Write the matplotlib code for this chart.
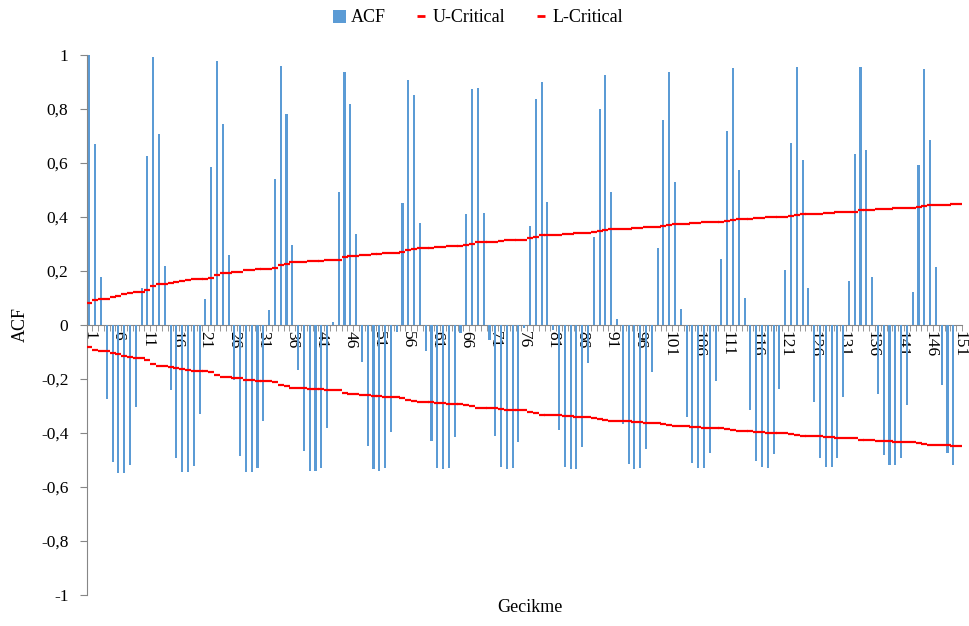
import matplotlib
matplotlib.use("Agg")
import matplotlib.pyplot as plt
from matplotlib.patches import Patch
from matplotlib.lines import Line2D
from matplotlib.ticker import FixedLocator, FuncFormatter

lags = list(range(1, 152))

acf = [
    1.000, 0.669, 0.178, -0.273, -0.506, -0.547, -0.547, -0.519, -0.304, 0.136,
    0.626, 0.993, 0.706, 0.219, -0.241, -0.494, -0.543, -0.543, -0.522, -0.331,
    0.095, 0.585, 0.978, 0.746, 0.259, -0.205, -0.485, -0.543, -0.543, -0.528,
    -0.356, 0.054, 0.540, 0.959, 0.783, 0.296, -0.168, -0.467, -0.541, -0.541,
    -0.528, -0.380, 0.012, 0.494, 0.937, 0.817, 0.338, -0.136, -0.448, -0.535,
    -0.541, -0.531, -0.396, -0.025, 0.453, 0.906, 0.851, 0.379, -0.096, -0.430,
    -0.531, -0.535, -0.531, -0.415, -0.030, 0.412, 0.873, 0.879, 0.416, -0.057,
    -0.411, -0.526, -0.535, -0.531, -0.432, -0.010, 0.367, 0.838, 0.901, 0.457,
    -0.020, -0.390, -0.526, -0.532, -0.532, -0.451, -0.140, 0.326, 0.801, 0.925,
    0.494, 0.021, -0.368, -0.516, -0.532, -0.528, -0.460, -0.173, 0.286, 0.759,
    0.938, 0.531, 0.058, -0.341, -0.510, -0.528, -0.528, -0.473, -0.207, 0.243,
    0.719, 0.951, 0.573, 0.099, -0.316, -0.504, -0.525, -0.528, -0.479, -0.236,
    0.202, 0.673, 0.956, 0.610, 0.136, -0.285, -0.494, -0.525, -0.525, -0.491,
    -0.267, 0.163, 0.632, 0.956, 0.648, 0.178, -0.254, -0.483, -0.520, -0.520,
    -0.494, -0.296, 0.122, 0.593, 0.947, 0.685, 0.215, -0.223, -0.473, -0.520,
    0.000,
]

u_crit = [
    0.081, 0.093, 0.097, 0.097, 0.104, 0.107, 0.115, 0.118, 0.122, 0.124,
    0.130, 0.144, 0.152, 0.152, 0.157, 0.160, 0.164, 0.168, 0.172, 0.172,
    0.172, 0.174, 0.185, 0.194, 0.194, 0.198, 0.198, 0.202, 0.202, 0.207,
    0.207, 0.207, 0.212, 0.222, 0.227, 0.232, 0.232, 0.232, 0.236, 0.238,
    0.238, 0.242, 0.242, 0.242, 0.252, 0.257, 0.257, 0.260, 0.260, 0.264,
    0.264, 0.267, 0.267, 0.267, 0.270, 0.278, 0.283, 0.286, 0.286, 0.286,
    0.290, 0.290, 0.294, 0.294, 0.294, 0.297, 0.301, 0.309, 0.309, 0.309,
    0.309, 0.312, 0.316, 0.316, 0.316, 0.316, 0.321, 0.325, 0.332, 0.332,
    0.332, 0.332, 0.336, 0.336, 0.340, 0.340, 0.340, 0.343, 0.347, 0.351,
    0.354, 0.354, 0.354, 0.354, 0.358, 0.358, 0.362, 0.362, 0.362, 0.366,
    0.371, 0.374, 0.374, 0.374, 0.377, 0.377, 0.380, 0.380, 0.380, 0.380,
    0.384, 0.389, 0.391, 0.391, 0.391, 0.395, 0.395, 0.399, 0.399, 0.399,
    0.399, 0.403, 0.406, 0.410, 0.410, 0.410, 0.410, 0.414, 0.414, 0.417,
    0.417, 0.417, 0.417, 0.425, 0.425, 0.425, 0.429, 0.429, 0.429, 0.432,
    0.432, 0.432, 0.432, 0.436, 0.441, 0.444, 0.444, 0.444, 0.444, 0.447,
    0.447,
]

l_crit = [
    -0.081, -0.093, -0.097, -0.097, -0.104, -0.107, -0.115, -0.118, -0.122, -0.124,
    -0.130, -0.144, -0.152, -0.152, -0.157, -0.160, -0.164, -0.168, -0.172, -0.172,
    -0.172, -0.174, -0.185, -0.194, -0.194, -0.198, -0.198, -0.202, -0.202, -0.207,
    -0.207, -0.207, -0.212, -0.222, -0.227, -0.232, -0.232, -0.232, -0.236, -0.238,
    -0.238, -0.242, -0.242, -0.242, -0.252, -0.257, -0.257, -0.260, -0.260, -0.264,
    -0.264, -0.267, -0.267, -0.267, -0.270, -0.278, -0.283, -0.286, -0.286, -0.286,
    -0.290, -0.290, -0.294, -0.294, -0.294, -0.297, -0.301, -0.309, -0.309, -0.309,
    -0.309, -0.312, -0.316, -0.316, -0.316, -0.316, -0.321, -0.325, -0.332, -0.332,
    -0.332, -0.332, -0.336, -0.336, -0.340, -0.340, -0.340, -0.343, -0.347, -0.351,
    -0.354, -0.354, -0.354, -0.354, -0.358, -0.358, -0.362, -0.362, -0.362, -0.366,
    -0.371, -0.374, -0.374, -0.374, -0.377, -0.377, -0.380, -0.380, -0.380, -0.380,
    -0.384, -0.389, -0.391, -0.391, -0.391, -0.395, -0.395, -0.399, -0.399, -0.399,
    -0.399, -0.403, -0.406, -0.410, -0.410, -0.410, -0.410, -0.414, -0.414, -0.417,
    -0.417, -0.417, -0.417, -0.425, -0.425, -0.425, -0.429, -0.429, -0.429, -0.432,
    -0.432, -0.432, -0.432, -0.436, -0.441, -0.444, -0.444, -0.444, -0.444, -0.447,
    -0.447,
]

x_tick_labels = [str(v) for v in range(1, 152, 5)]
y_ticks = [-1, -0.8, -0.6, -0.4, -0.2, 0, 0.2, 0.4, 0.6, 0.8, 1]

BLUE = "#5B9BD5"
RED = "#FF0000"
AXC = "#868686"
FONT = ["Liberation Serif", "DejaVu Serif"]

plt.rcParams["font.family"] = FONT

fig = plt.figure(figsize=(9.69, 6.26), dpi=100)
ax = fig.add_axes([86.5 / 969, 1 - 595 / 626, (962 - 86.5) / 969, (595 - 55) / 626])

ax.bar(lags, acf, width=0.36, color=BLUE, zorder=2)
ax.plot(lags, u_crit, linestyle="none", marker="_", markersize=4.6,
        markeredgewidth=1.6, color=RED, zorder=3)
ax.plot(lags, l_crit, linestyle="none", marker="_", markersize=4.6,
        markeredgewidth=1.6, color=RED, zorder=3)

ax.set_xlim(0.5, len(lags) + 0.5)
ax.set_ylim(-1, 1)

for s in ["top", "right"]:
    ax.spines[s].set_visible(False)
ax.spines["bottom"].set_position(("data", 0))
ax.spines["bottom"].set_color(AXC)
ax.spines["left"].set_color(AXC)
ax.spines["bottom"].set_zorder(1)

ax.set_yticks(y_ticks)
ax.yaxis.set_major_formatter(FuncFormatter(
    lambda v, p: ("%g" % round(v, 1)).replace(".", ",")))
ax.tick_params(axis="y", direction="out", length=5, color=AXC,
               labelsize=12.5, pad=8)

ax.set_xticks(list(range(1, 152, 5)))
ax.set_xticklabels(x_tick_labels, rotation=-90)
ax.xaxis.set_minor_locator(FixedLocator([i + 0.5 for i in range(0, 152)]))
ax.tick_params(axis="x", which="major", length=0, labelsize=12.5, pad=4)
ax.tick_params(axis="x", which="minor", direction="out", length=4, color=AXC)

fig.text(20 / 969, 1 - 325 / 626, "ACF", rotation=90, ha="center",
         va="center", fontsize=13)
fig.text(530 / 969, 1 - 608 / 626, "Gecikme", ha="center", va="center",
         fontsize=13)

handles = [
    Patch(facecolor=BLUE, edgecolor="none"),
    Line2D([], [], linestyle="none", marker="_", markersize=6,
           markeredgewidth=2, color=RED),
    Line2D([], [], linestyle="none", marker="_", markersize=6,
           markeredgewidth=2, color=RED),
]
fig.legend(handles, ["ACF", "U-Critical", "L-Critical"], loc="center",
           bbox_to_anchor=(478 / 969, 1 - 18 / 626), ncol=3, frameon=False,
           fontsize=13, handlelength=0.7, handleheight=0.7, handletextpad=0.3,
           columnspacing=1.6)

fig.savefig("out.png", dpi=100)
